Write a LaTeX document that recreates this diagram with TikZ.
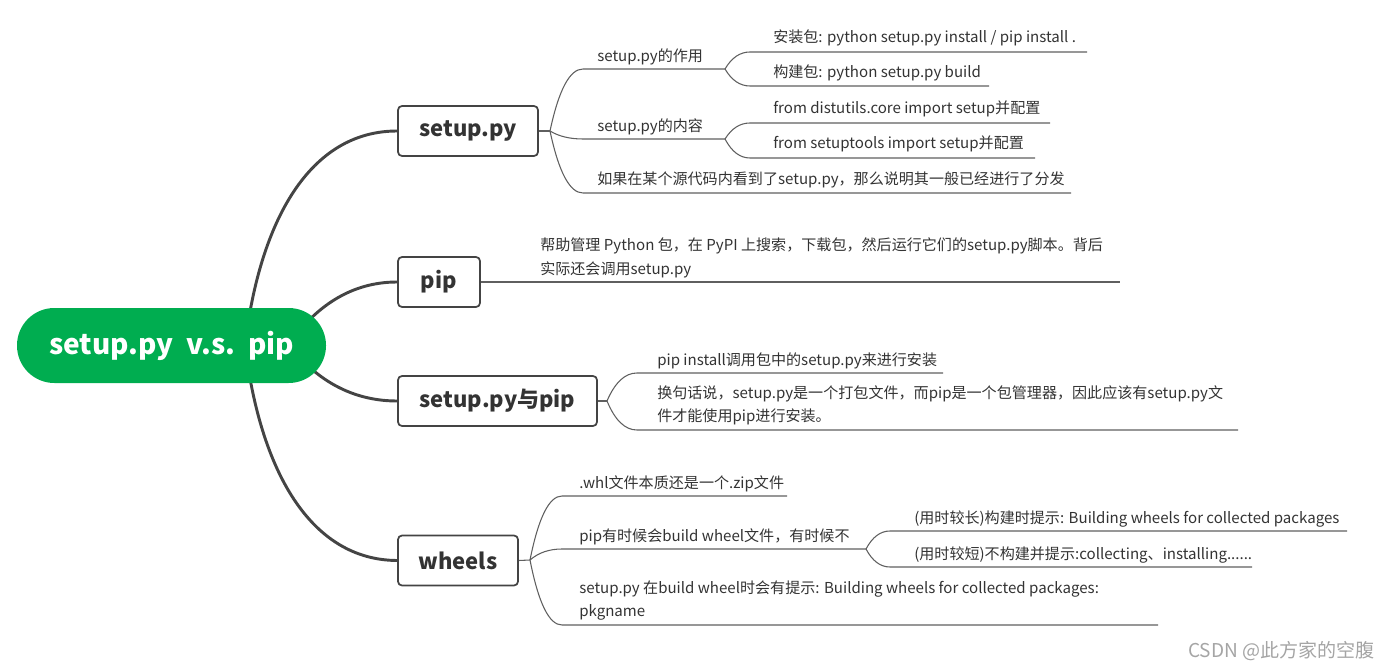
\documentclass[tikz,border=0pt]{standalone}
\usepackage{fontspec}
\setmainfont{Noto Sans CJK SC}
\usetikzlibrary{calc}
\definecolor{rootgreen}{RGB}{0,173,80}
\definecolor{ink}{RGB}{51,51,51}
\definecolor{mainline}{RGB}{68,68,68}
\definecolor{subline}{RGB}{95,95,95}
\definecolor{wm}{RGB}{165,165,165}
\newcommand\twig[3]{%
  \draw[twig] let \p1=(#1), \p2=(#2) in
    (\p1) .. controls ({\x1+0.267*(\x2-\x1)},{\y1+0.667*(\y2-\y1)})
             and ({\x2-0.4*(\x2-\x1)},\y2) .. (\p2) -- (#3);}
\begin{document}
\begin{tikzpicture}[x=0.75pt,y=-0.75pt,
  topic/.style={draw=mainline, line width=1.3pt, rounded corners=3pt, fill=white,
    text=ink, font=\fontsize{16.5pt}{19pt}\selectfont\bfseries, inner sep=0pt,
    minimum height=37.5pt},
  rootnode/.style={fill=rootgreen, rounded corners=28pt, text=white,
    font=\fontsize{21pt}{25pt}\selectfont\bfseries, inner sep=0pt,
    minimum width=231.75pt, minimum height=56.25pt},
  mainconn/.style={draw=mainline, line width=2.2pt},
  twig/.style={draw=subline, line width=0.8pt},
  leaf/.style={anchor=base west, inner sep=0pt, text=ink,
    font=\fontsize{11.3pt}{17.25pt}\selectfont},
  leafml/.style={leaf, align=left},
  wmstyle/.style={anchor=base east, inner sep=0pt, text=wm,
    font=\fontsize{14.3pt}{16pt}\selectfont}
]
\useasboundingbox (0,0) rectangle (1391,670);

% topic boxes
\node[topic, minimum width=105pt] (t1) at (468,131) {setup.py};
\node[topic, minimum width=61.5pt] (t2) at (439,282) {pip};
\node[topic, minimum width=149.25pt] (t3) at (497.5,401) {setup.py与pip};
\node[topic, minimum width=90pt] (t4) at (458,560.5) {wheels};

% main connectors
\coordinate (hub) at (245,345);
\coordinate (hubp) at (285,350);
\coordinate (hubs) at (285,340);
\draw[mainconn] (hub) .. controls (260,220) and (310,131) .. (t1.west);
\draw[mainconn] (hubp) .. controls (315,304.7) and (352.7,282) .. (t2.west);
\draw[mainconn] (hubs) .. controls (315,380.7) and (352.7,401) .. (t3.west);
\draw[mainconn] (hub) .. controls (260,470) and (310,560) .. (t4.west);

\node[rootnode] (root) at (171.5,345.5) {setup.py\ \ v.s.\ \ pip};

% ---- setup.py branch
\coordinate (b1) at (550,131);
\draw[twig] (t1.east) -- (b1);
\coordinate (s1) at (583,69);   \coordinate (b11) at (725,69);
\coordinate (s2) at (583,139);  \coordinate (b12) at (725,139);
\coordinate (s3) at (583,193);  \coordinate (e3) at (1071,193);
\twig{b1}{s1}{b11}
\twig{b1}{s2}{b12}
\twig{b1}{s3}{e3}
\coordinate (s11) at (750,52);  \coordinate (e11) at (1087,52);
\coordinate (s12) at (750,86);  \coordinate (e12) at (989,86);
\coordinate (s21) at (750,123); \coordinate (e21) at (1050,123);
\coordinate (s22) at (750,158); \coordinate (e22) at (1035,158);
\twig{b11}{s11}{e11}
\twig{b11}{s12}{e12}
\twig{b12}{s21}{e21}
\twig{b12}{s22}{e22}
\node[leaf] (l1) at (597,62) {setup.py的作用};
\node[leaf] (l2) at (597,132) {setup.py的内容};
\node[leaf] (l3) at (597,185) {如果在某个源代码内看到了setup.py，那么说明其一般已经进行了分发};
\node[leaf] (l11) at (773,43) {安装包: python setup.py install / pip install .};
\node[leaf] (l12) at (773,78) {构建包: python setup.py build};
\node[leaf] (l21) at (773,114) {from distutils.core import setup并配置};
\node[leaf] (l22) at (773,149) {from setuptools import setup并配置};

% ---- pip branch
\coordinate (e4) at (1120,282);
\draw[twig] (t2.east) -- (e4);
\node[leafml] (lp) at (540,274) {帮助管理 Python 包，在 PyPI 上搜索，下载包，然后运行它们的setup.py脚本。背后\\实际还会调用setup.py};

% ---- setup.py与pip branch
\coordinate (b3) at (607,401);
\draw[twig] (t3.east) -- (b3);
\coordinate (s31) at (637,373); \coordinate (e31) at (943,373);
\coordinate (s32) at (637,430); \coordinate (e32) at (1238,430);
\twig{b3}{s31}{e31}
\twig{b3}{s32}{e32}
\node[leaf] (l31) at (657,365) {pip install调用包中的setup.py来进行安装};
\node[leafml] (l32) at (657,421) {换句话说，setup.py是一个打包文件，而pip是一个包管理器，因此应该有setup.py文\\件才能使用pip进行安装。};

% ---- wheels branch
\coordinate (b4) at (530,560);
\draw[twig] (t4.east) -- (b4);
\coordinate (s41) at (562,496); \coordinate (e41) at (787,496);
\coordinate (s42) at (562,549); \coordinate (b42) at (866,549);
\coordinate (s43) at (562,625); \coordinate (e43) at (1158,625);
\twig{b4}{s41}{e41}
\twig{b4}{s42}{b42}
\twig{b4}{s43}{e43}
\coordinate (s421) at (890,531); \coordinate (e421) at (1347,531);
\coordinate (s422) at (890,567); \coordinate (e422) at (1252,567);
\twig{b42}{s421}{e421}
\twig{b42}{s422}{e422}
\node[leaf] (l41) at (579,488) {.whl文件本质还是一个.zip文件};
\node[leaf] (l42) at (579,541) {pip有时候会build wheel文件，有时候不};
\node[leafml] (l43) at (579,616) {setup.py 在build wheel时会有提示: Building wheels for collected packages:\\pkgname};
\node[leaf] (l421) at (914,523) {(用时较长)构建时提示: Building wheels for collected packages};
\node[leaf] (l422) at (914,559) {(用时较短)不构建并提示:collecting、installing......};

\node[wmstyle] (wmk) at (1375,657) {CSDN @此方家的空腹};
\end{tikzpicture}
\end{document}
